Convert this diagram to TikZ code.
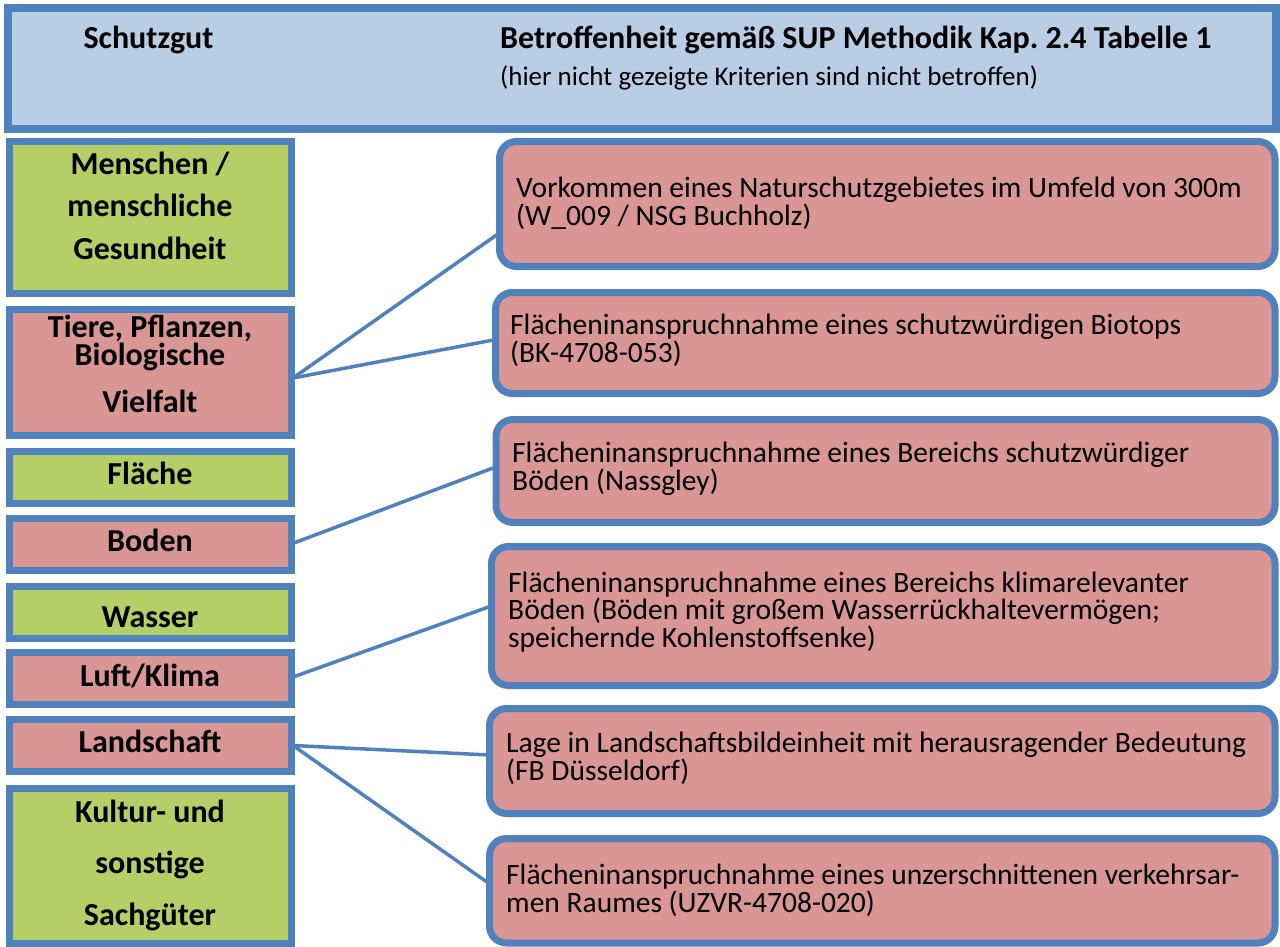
\documentclass[tikz,border=0pt]{standalone}
\usepackage{fontspec}
\setmainfont{Carlito}
\usetikzlibrary{calc}
\frenchspacing

\definecolor{bdr}{RGB}{79,129,189}
\definecolor{hdrfill}{RGB}{185,205,229}
\definecolor{okfill}{RGB}{181,206,101}
\definecolor{hitfill}{RGB}{217,150,148}

\tikzset{
  hdrbox/.style={draw=bdr, fill=hdrfill, line width=8pt, inner sep=0pt, outer sep=0pt},
  sgbox/.style={draw=bdr, line width=7pt, inner sep=0pt, outer sep=0pt, minimum width=282pt},
  okbox/.style={sgbox, fill=okfill},
  hitbox/.style={sgbox, fill=hitfill},
  effbox/.style={draw=bdr, fill=hitfill, line width=7pt, rounded corners=17pt, inner sep=0pt, outer sep=0pt},
  % multi-line nodes: the base anchor sits on the baseline of the last line
  sgtext/.style={inner sep=0pt, anchor=base, align=center,
    font={\fontsize{32pt}{42.5pt}\selectfont\bfseries}},
  efftext/.style={inner sep=0pt, anchor=base west, align=left,
    font={\fontsize{29.5pt}{24.5pt}\selectfont}},
  link/.style={draw=bdr, line width=3.5pt},
}

\begin{document}
\begin{tikzpicture}[x=1pt, y=-1pt]
\useasboundingbox (0,0) rectangle (1280,947);

% header bar
\node[hdrbox, minimum width=1268pt, minimum height=121pt] (head) at (642,68.5) {};
\node[inner sep=0pt, anchor=base, font={\fontsize{32pt}{32pt}\selectfont\bfseries}] (headA) at (148.5,49) {Schutzgut};
\node[inner sep=0pt, anchor=base west, font={\fontsize{32pt}{32pt}\selectfont\bfseries}] (headB) at (500,49) {Betroffenheit gemäß SUP Methodik Kap. 2.4 Tabelle 1};
\node[inner sep=0pt, anchor=base west, font={\fontsize{27pt}{27pt}\selectfont}] (headC) at (500,86) {(hier nicht gezeigte Kriterien sind nicht betroffen)};

% Schutzgueter (left column)
\node[okbox,  minimum height=152pt] (m1) at (150.5,217.5) {};
\node[hitbox, minimum height=126pt] (m2) at (150.5,372.5) {};
\node[okbox,  minimum height=52pt]  (m3) at (150.5,477.5) {};
\node[hitbox, minimum height=52pt]  (m4) at (150.5,544.5) {};
\node[okbox,  minimum height=52pt]  (m5) at (150.5,612.5) {};
\node[hitbox, minimum height=52pt]  (m6) at (150.5,678.5) {};
\node[hitbox, minimum height=52pt]  (m7) at (150.5,745.5) {};
\node[okbox,  minimum height=155pt] (m8) at (150.5,866) {};

\node[sgtext] (m1t) at (150,259) {Menschen /\\menschliche\\Gesundheit};
\node[sgtext, font={\fontsize{32pt}{26pt}\selectfont\bfseries}] (m2t) at (150,412) {Tiere, Pflanzen,\\Biologische\\[18pt]Vielfalt};
\node[sgtext] (m3t) at (150,484) {Fläche};
\node[sgtext] (m4t) at (150,551) {Boden};
\node[sgtext] (m5t) at (150,627) {Wasser};
\node[sgtext] (m6t) at (150,686) {Luft/Klima};
\node[sgtext] (m7t) at (150,752) {Landschaft};
\node[sgtext, font={\fontsize{32pt}{51.5pt}\selectfont\bfseries}] (m8t) at (150,925) {Kultur- und\\sonstige\\Sachgüter};

% Betroffenheiten (right column)
\node[effbox, minimum width=775.5pt, minimum height=125pt] (r1) at (887.25,204) {};
\node[effbox, minimum width=779.5pt, minimum height=101pt] (r2) at (885.25,343) {};
\node[effbox, minimum width=779pt,   minimum height=103pt] (r3) at (885.5,471) {};
\node[effbox, minimum width=783.5pt, minimum height=139pt] (r4) at (883.25,616) {};
\node[effbox, minimum width=785.5pt, minimum height=105pt] (r5) at (882.25,761) {};
\node[effbox, minimum width=785.5pt, minimum height=104.5pt] (r6) at (882.25,890.75) {};

\node[efftext] (r1t) at (516,225) {Vorkommen eines Naturschutzgebietes im Umfeld von 300m\\(W\_009 / NSG Buchholz)};
\node[efftext] (r2t) at (510,362) {Flächeninanspruchnahme eines schutzwürdigen Biotops\\(BK-4708-053)};
\node[efftext] (r3t) at (512,490) {Flächeninanspruchnahme eines Bereichs schutzwürdiger\\Böden (Nassgley)};
\node[efftext] (r4t) at (508,647) {Flächeninanspruchnahme eines Bereichs klimarelevanter\\Böden (Böden mit großem Wasserrückhaltevermögen;\\speichernde Kohlenstoffsenke)};
\node[efftext] (r5t) at (506,780) {Lage in Landschaftsbildeinheit mit herausragender Bedeutung\\(FB Düsseldorf)};
\node[efftext] (r6t) at (506,912) {Flächeninanspruchnahme eines unzerschnittenen verkehrsar-\\men Raumes (UZVR-4708-020)};

% connectors
\draw[link] ($(m2.east)+(1.5,5.5)$) -- ($(r1.west)+(-3,31)$);
\draw[link] ($(m2.east)+(1.5,5.5)$) -- ($(r2.west)+(-2,-3)$);
\draw[link] ($(m4.east)+(-3,0.5)$) -- ($(r3.west)+(-3,-3)$);
\draw[link] ($(m6.east)+(1.5,-1.5)$) -- ($(r4.west)+(-3,-9)$);
\draw[link] ($(m7.east)+(1.5,0)$) -- ($(r5.west)+(0,-6)$);
\draw[link] ($(m7.east)+(1.5,0)$) -- ($(r6.west)+(-3,-9)$);
\end{tikzpicture}
\end{document}
